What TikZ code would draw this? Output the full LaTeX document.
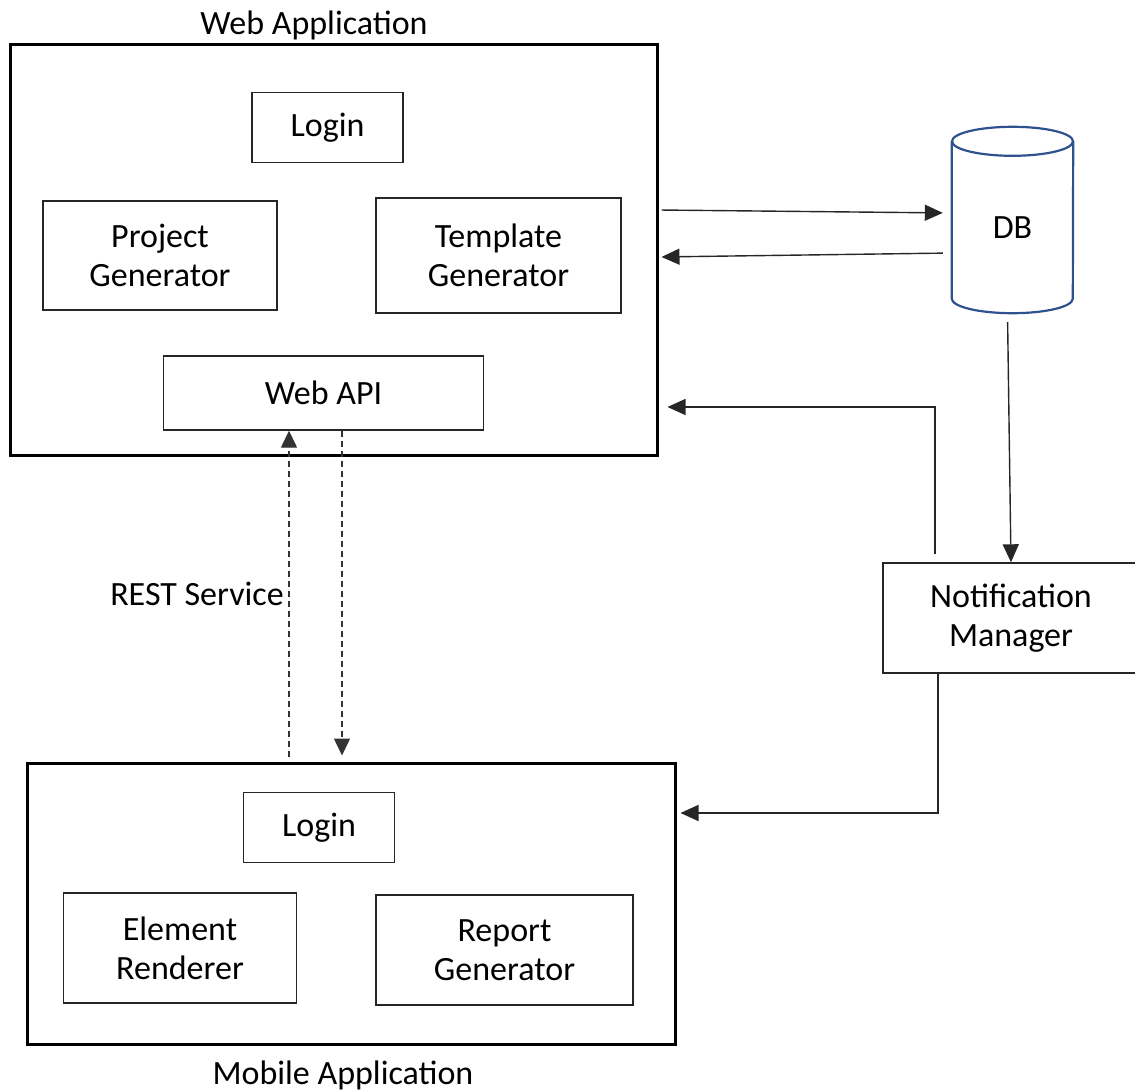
\documentclass[tikz,border=0pt]{standalone}
\usepackage{fontspec}
\setmainfont{Carlito}
\usetikzlibrary{arrows.meta}
\newcommand\bigtxt{\fontsize{34}{39}\selectfont}
\definecolor{dbblue}{HTML}{2F528F}
\begin{document}
\begin{tikzpicture}[x=1pt,y=-1pt,
  box/.style={draw=black!85, line width=1.4pt, inner sep=0pt, align=center, font=\bigtxt},
  outer/.style={draw=black, line width=3pt, inner sep=0pt},
  arr/.style={draw=black!85, line width=1.4pt, -{Triangle[length=18pt,width=16pt]}},
  darr/.style={draw=black!80, line width=1.4pt, dash pattern=on 6pt off 4pt, -{Triangle[length=17pt,width=16pt]}},
  lbl/.style={font=\bigtxt, inner sep=0pt, anchor=base},
  dbline/.style={draw=dbblue, line width=2.2pt}]
\useasboundingbox (0,0) rectangle (1135,1091);
\clip (0,0) rectangle (1135,1091);

% Web application
\node[outer, minimum width=647pt, minimum height=410pt] (webapp) at (333.5,250) {};
\node[lbl] (webtitle) at (314,35) {Web Application};
\node[box, minimum width=151pt, minimum height=70pt] (wlogin) at (327.5,127.5) {Login};
\node[box, minimum width=234pt, minimum height=109pt] (projgen) at (160,255.5) {Project\\Generator};
\node[box, minimum width=245pt, minimum height=115pt] (tempgen) at (498.5,255.5) {Template\\Generator};
\node[box, minimum width=320pt, minimum height=74pt] (webapi) at (323.5,393) {Web API};

% DB cylinder
\node[inner sep=0pt, minimum width=121pt, minimum height=171.5pt, font=\bigtxt] (db) at (1012.5,227.25) {DB};
\draw[dbline] (db.north west) -- ([yshift=14.5pt]db.south west)
  arc[start angle=180, end angle=360, x radius=60.5pt, y radius=14.5pt] -- (db.north east);
\draw[dbline] (db.north) ellipse[x radius=60.5pt, y radius=14.5pt];

% Notification manager
\node[box, minimum width=256pt, minimum height=110pt] (nm) at (1011,618) {Notification\\Manager};

% Mobile application
\node[outer, minimum width=648pt, minimum height=281pt] (mobile) at (351,903.5) {};
\node[lbl] (mobtitle) at (343,1084) {Mobile Application};
\node[box, minimum width=151pt, minimum height=70pt] (mlogin) at (319,827.5) {Login};
\node[box, minimum width=233pt, minimum height=110pt] (elemrend) at (180,948) {Element\\Renderer};
\node[box, minimum width=257pt, minimum height=110pt] (repgen) at (504.5,950) {Report\\Generator};

% REST label
\node[lbl, anchor=base east] (rest) at (284,605) {REST Service};

% connectors
\draw[arr, shorten <=3pt, shorten >=9pt] (webapp.east |- 0,210) -- (db.west |- 0,213);
\draw[arr, shorten <=9pt, shorten >=3pt] (db.west |- 0,253) -- (webapp.east |- 0,257);
\draw[arr, shorten <=9pt] ([xshift=-5pt]db.south) -- (nm.north);
\draw[arr, shorten <=8pt, shorten >=9pt] (nm.north -| 935,0) |- (webapp.east |- 0,407);
\draw[arr, shorten >=4pt] (nm.south -| 938,0) |- (mobile.east |- 0,813);
\draw[darr, shorten <=5pt] (mobile.north -| 289,0) -- (webapi.south -| 289,0);
\draw[darr, shorten >=6pt] (webapi.south -| 342,0) -- (mobile.north -| 342,0);
\end{tikzpicture}
\end{document}
